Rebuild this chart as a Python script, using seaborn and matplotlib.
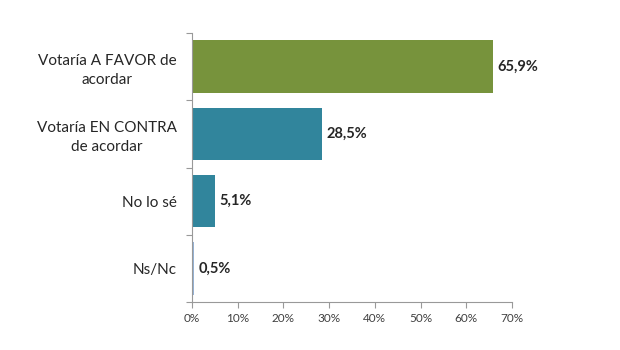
import matplotlib
matplotlib.use("Agg")
import matplotlib.pyplot as plt
import seaborn as sns
import pandas as pd
from matplotlib.ticker import FixedLocator, PercentFormatter

categories = ["Votaría A FAVOR de\nacordar", "Votaría EN CONTRA\nde acordar", "No lo sé", "Ns/Nc"]
values = [65.9, 28.5, 5.1, 0.5]
value_labels = ["65,9%", "28,5%", "5,1%", "0,5%"]
bar_colors = ["#77933C", "#31859C", "#31859C", "#95B3D7"]
x_ticks = [0, 10, 20, 30, 40, 50, 60, 70]

sns.set_theme(style="white")
plt.rcParams["font.family"] = ["Lato", "DejaVu Sans"]

df = pd.DataFrame({"cat": categories, "val": values})

fig = plt.figure(figsize=(6.2, 3.5), dpi=100)
ax = fig.add_axes([192 / 620, 1 - 302 / 350, (512 - 192) / 620, (302 - 33) / 350])

sns.barplot(data=df, y="cat", x="val", hue="cat", palette=bar_colors,
            legend=False, width=0.78, ax=ax, saturation=1, linewidth=0)

ax.set_xlim(0, 70)
ax.set_ylim(3.5, -0.5)
ax.set_xlabel("")
ax.set_ylabel("")

ax.xaxis.set_major_locator(FixedLocator(x_ticks))
ax.xaxis.set_major_formatter(PercentFormatter(decimals=0))
ax.tick_params(axis="x", which="major", direction="out", length=4, width=0.8,
               color="#999999", labelsize=8.5, labelcolor="#404040", pad=4, bottom=True)

ax.yaxis.set_minor_locator(FixedLocator([-0.5, 0.5, 1.5, 2.5, 3.5]))
ax.tick_params(axis="y", which="major", length=0, labelsize=11, labelcolor="#262626", pad=11)
ax.tick_params(axis="y", which="minor", direction="out", length=4, width=0.8,
               color="#999999", left=True)
for lbl in ax.get_yticklabels():
    lbl.set_horizontalalignment("right")
    lbl.set_multialignment("center")
    lbl.set_linespacing(1.45)

for side in ["top", "right"]:
    ax.spines[side].set_visible(False)
for side in ["left", "bottom"]:
    ax.spines[side].set_color("#999999")
    ax.spines[side].set_linewidth(0.8)

for i, (v, t) in enumerate(zip(values, value_labels)):
    ax.annotate(t, xy=(v, i), xytext=(3, 0), textcoords="offset points",
                va="center", ha="left", fontsize=10.5, fontweight="bold", color="#262626")

fig.savefig("out.png", dpi=100, facecolor="white")
